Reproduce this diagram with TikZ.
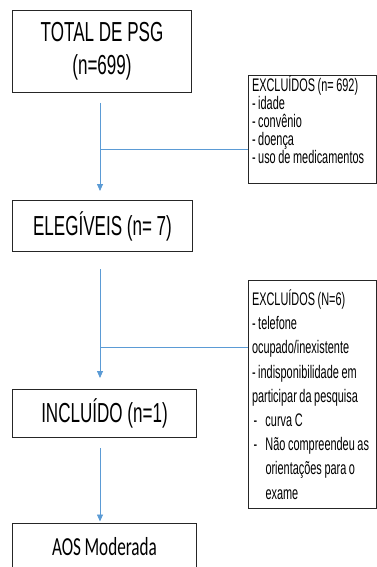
\documentclass[tikz,border=0pt]{standalone}
\usepackage{fontspec}
\setmainfont{Liberation Sans}[FakeStretch=0.6, WordSpace=0.85]
\newfontfamily\bigfont{Liberation Sans}[FakeStretch=0.62, WordSpace=1]
\newfontfamily\calib{Carlito}[FakeStretch=0.66, WordSpace=0.9]
\usetikzlibrary{arrows.meta}
\definecolor{arrowblue}{HTML}{5B9BD5}
\newcommand{\normsp}{\spaceskip=0pt\xspaceskip=0pt\relax}
\begin{document}
\begin{tikzpicture}[x=1pt,y=-1pt,
  box/.style={draw=black!85, line width=1pt, inner sep=0pt, anchor=north west},
  big/.style={font=\bigfont\fontsize{27.5}{33}\selectfont, align=center},
  small/.style={font=\fontsize{18.2}{18}\selectfont, align=left, inner xsep=2pt, inner ysep=0pt, text width=124pt},
  flow/.style={draw=arrowblue, line width=0.8pt},
  arrowtip/.style={-{Triangle[length=7pt,width=6pt]}}
]
\useasboundingbox (0,0) rectangle (377,567);
\clip (0,0) rectangle (377,567);
\fill[white] (0,0) rectangle (377,567);

\node[box, big, minimum width=179pt, minimum height=82pt] (total) at (12,10) {TOTAL DE PSG\\(n=699)};
\node[box, big, minimum width=180pt, minimum height=51pt] (elig) at (12,200) {ELEGÍVEIS (n= 7)};
\node[box, big, minimum width=184pt, minimum height=48pt] (incl) at (12,389) {INCLUÍDO (n=1)};
\node[box, font=\calib\fontsize{26}{30}\selectfont, minimum width=184pt, minimum height=46pt] (aos) at (12,523) {AOS Moderada};

\node[box, small] (ex1) at (248,75) {\normsp\rule{0pt}{16pt}\hspace*{1.5pt}EXCLUÍDOS (n= 692)\\\hspace*{1.5pt}- idade\\\hspace*{1.5pt}- convênio\\\hspace*{1.5pt}- doença\\\hspace*{1.5pt}- uso de medicamentos\rule[-20pt]{0pt}{20pt}};
\node[box, small, font=\fontsize{18.2}{24.2}\selectfont] (ex2) at (248,280) {\normsp\rule{0pt}{25pt}\hspace*{1.5pt}EXCLUÍDOS (N=6)\\\hspace*{1.5pt}- telefone\\\hspace*{1.5pt}ocupado/inexistente\\\hspace*{1.5pt}- indisponibilidade em\\\hspace*{1.5pt}participar da pesquisa\\\hspace*{3pt}\makebox[12pt][l]{-}curva C\\\hspace*{3pt}\makebox[12pt][l]{-}Não compreendeu as\\\hspace*{15pt}orientações para o\\\hspace*{15pt}exame\rule[-9pt]{0pt}{9pt}};

\coordinate (j1) at (100,149);
\coordinate (j2) at (100,347);

\draw[flow, arrowtip, shorten <=10pt, shorten >=9pt] (total.south -| j1) -- (elig.north -| j1);
\draw[flow] (j1) -- (j1 -| ex1.west);
\draw[flow, arrowtip, shorten <=17pt, shorten >=11pt] (elig.south -| j2) -- (incl.north -| j2);
\draw[flow] (j2) -- (j2 -| ex2.west);
\draw[flow, arrowtip, shorten <=10pt, shorten >=1.5pt] (incl.south -| j2) -- (aos.north -| j2);
\end{tikzpicture}
\end{document}
